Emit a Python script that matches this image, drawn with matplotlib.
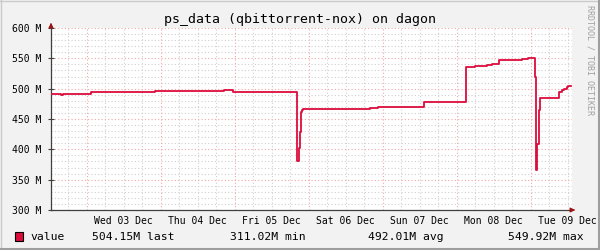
import matplotlib
matplotlib.use("Agg")
import matplotlib.pyplot as plt
from matplotlib.patches import Rectangle
from matplotlib.lines import Line2D

# hours since Wed 03 Dec 00:00, memory in M
hours = [-11.6, -8.3, -7.7, 1.4, 22.2, 44.6, 47.5, 68.3, 68.9, 69.2, 69.5, 69.9, 70.2,
         91.9, 94.6, 109.4, 122.9, 125.9, 129.7, 131.4, 133.8, 141.1, 143.0,
         145.5, 145.8, 146.1, 146.8, 147.1, 153.3, 154.1, 154.9, 155.7, 156.2]
values = [491.8, 489.0, 491.8, 495.0, 496.6, 498.0, 494.8, 381.0, 402.7, 428.0, 462.0, 464.3, 466.0,
          467.6, 469.0, 477.5, 535.0, 537.0, 539.0, 541.0, 546.7, 548.4, 550.0,
          519.8, 366.0, 408.3, 464.8, 485.0, 495.0, 497.8, 500.0, 502.8, 504.4]

day_labels = ['Wed 03 Dec', 'Thu 04 Dec', 'Fri 05 Dec', 'Sat 06 Dec',
              'Sun 07 Dec', 'Mon 08 Dec', 'Tue 09 Dec']
y_ticks = [300, 350, 400, 450, 500, 550, 600]
y_labels = ['%d M' % v for v in y_ticks]

title = 'ps_data (qbittorrent-nox) on dagon'
legend_name = 'value'
stats = ['504.15M last', '311.02M min', '492.01M avg', '549.92M max']

mono = 'DejaVu Sans Mono'
line_color = '#dc0c3c'

fig = plt.figure(figsize=(6, 2.5), dpi=100, facecolor='#f2f2f2')
ax = fig.add_axes([51/600, 1 - 210/250, 521/600, 182/250])
ax.set_facecolor('white')
ax.set_xlim(-11.6, 157.4)
ax.set_ylim(300, 600)

# grid: minor every 6h / 10M grey, major every day / 50M red
for h in range(-6, 157, 6):
    if h % 24 == 0:
        ax.axvline(h, color='#f0a8a8', lw=0.8, ls=(0, (1, 2)), zorder=1)
    else:
        ax.axvline(h, color='#d0d0d0', lw=0.8, ls=(0, (1, 2)), zorder=0)
for v in range(310, 601, 10):
    if v % 50 == 0:
        ax.axhline(v, color='#f0a8a8', lw=0.8, ls=(0, (1, 2)), zorder=1)
    else:
        ax.axhline(v, color='#d0d0d0', lw=0.8, ls=(0, (1, 2)), zorder=0)

ax.plot(hours + [157.0], values + [values[-1]], drawstyle='steps-post',
        color=line_color, lw=1.3, zorder=3)

for s in ['top', 'right']:
    ax.spines[s].set_visible(False)
for s in ['left', 'bottom']:
    ax.spines[s].set_color('#404040')
    ax.spines[s].set_linewidth(0.9)

ax.set_yticks(y_ticks)
ax.set_yticklabels(y_labels, fontfamily=mono, fontsize=7)
ax.set_xticks([24 * i + 12 for i in range(len(day_labels))])
ax.set_xticklabels(day_labels, fontfamily=mono, fontsize=7)
ax.tick_params(axis='y', direction='inout', length=4, width=0.8, color='#404040', pad=5)
ax.tick_params(axis='x', length=0, pad=4)

# arrows at axis ends
ax.annotate('', xy=(51/600, 1 - 20/250), xytext=(51/600, 1 - 28/250),
            xycoords='figure fraction',
            arrowprops=dict(arrowstyle='-|>', color='#a01010', lw=0.8, mutation_scale=7))
ax.annotate('', xy=(578/600, 1 - 210/250), xytext=(570/600, 1 - 210/250),
            xycoords='figure fraction',
            arrowprops=dict(arrowstyle='-|>', color='#a01010', lw=0.8, mutation_scale=7))

fig.text(300/600, 1 - 19/250, title, ha='center', va='center', fontfamily=mono, fontsize=9.5)
fig.text(590/600, 1 - 5/250, 'RRDTOOL / TOBI OETIKER', rotation=-90, ha='center', va='top',
         fontfamily=mono, fontsize=6, color='#a0a0a0')

# legend row
fig.add_artist(Rectangle((15/600, 1 - 241/250), 8/600, 9/250, transform=fig.transFigure,
                         facecolor=line_color, edgecolor='black', lw=0.8))
ly = 1 - 237/250
fig.text(30/600, ly, legend_name, va='center', fontfamily=mono, fontsize=8.2)
for x0, s in zip([91.5, 230, 368.5, 507.5], stats):
    fig.text(x0/600, ly, s, va='center', fontfamily=mono, fontsize=8.2)

# frame shading
fig.add_artist(Line2D([0, 1], [1 - 0.5/250, 1 - 0.5/250], transform=fig.transFigure, color='#cbcbcb', lw=1))
fig.add_artist(Line2D([0.5/600, 0.5/600], [0, 1], transform=fig.transFigure, color='#cbcbcb', lw=1))
fig.add_artist(Line2D([598.5/600, 598.5/600], [0, 1], transform=fig.transFigure, color='#9e9e9e', lw=2.2))
fig.add_artist(Line2D([0, 1], [1.5/250, 1.5/250], transform=fig.transFigure, color='#9e9e9e', lw=2.2))

fig.savefig('out.png', dpi=100, facecolor=fig.get_facecolor())
